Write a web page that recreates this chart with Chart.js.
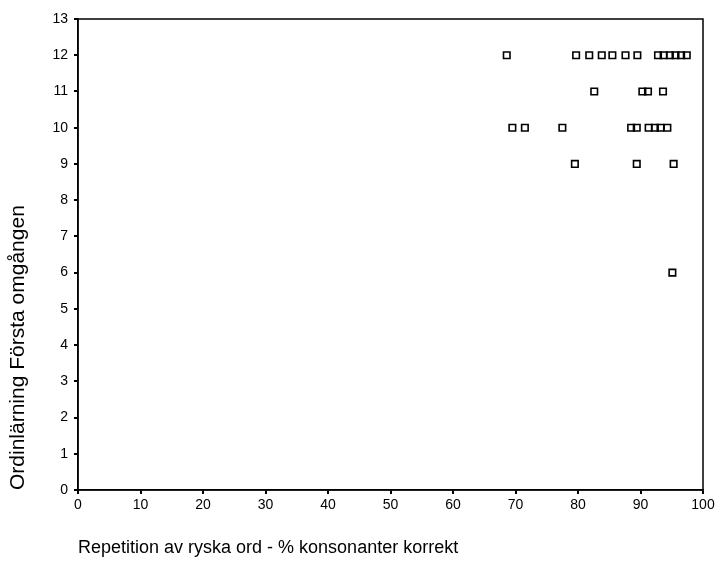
<!DOCTYPE html>
<html>
<head>
<meta charset="utf-8">
<script src="https://cdn.jsdelivr.net/npm/chart.js@4/dist/chart.umd.min.js"></script>
<style>
html,body{margin:0;padding:0;background:#fff;}
#wrap{width:720px;height:572px;position:relative;}
</style>
</head>
<body>
<div id="wrap"><canvas id="c" width="720" height="572"></canvas></div>
<script>
// Data
const xPercent = [68.6, 79.7, 81.8, 83.8, 85.5, 87.6, 89.5, 92.8, 93.7, 94.7, 95.6, 96.5, 97.4,
                  82.6, 90.3, 91.2, 93.6,
                  69.5, 71.5, 77.5, 88.5, 89.4, 91.3, 92.3, 93.2, 94.3,
                  79.5, 89.4, 95.3,
                  95.1];
const yRounds  = [12, 12, 12, 12, 12, 12, 12, 12, 12, 12, 12, 12, 12,
                  11, 11, 11, 11,
                  10, 10, 10, 10, 10, 10, 10, 10, 10,
                  9, 9, 9,
                  6];
const xTickValues = [0, 10, 20, 30, 40, 50, 60, 70, 80, 90, 100];
const yTickValues = [0, 1, 2, 3, 4, 5, 6, 7, 8, 9, 10, 11, 12, 13];
const xTitle = 'Repetition av ryska ord - % konsonanter korrekt';
const yTitle = 'Ordinlärning Första omgången';

const points = xPercent.map((x, i) => ({x: x, y: yRounds[i]}));

const boxPlugin = {
  id: 'box',
  afterDatasetsDraw(chart) {
    const a = chart.chartArea, ctx = chart.ctx;
    ctx.save();
    ctx.strokeStyle = '#000';
    ctx.lineWidth = 1.5;
    ctx.strokeRect(a.left, a.top, a.right - a.left, a.bottom - a.top);
    ctx.restore();
  }
};

const fam = '"Liberation Sans", Arial, sans-serif';
const tickFont = {family: fam, size: 14};

new Chart(document.getElementById('c'), {
  type: 'scatter',
  data: {
    datasets: [{
      data: points,
      pointStyle: 'rect',
      radius: 4.6,
      hoverRadius: 4.6,
      borderColor: '#000',
      backgroundColor: 'rgba(255,255,255,0)',
      borderWidth: 1.6
    }]
  },
  options: {
    responsive: false,
    animation: false,
    layout: {padding: {left: 0, top: 19, right: 17, bottom: 0}},
    plugins: {legend: {display: false}, tooltip: {enabled: false}},
    scales: {
      x: {
        type: 'linear', min: 0, max: 100,
        afterBuildTicks(scale) { scale.ticks = xTickValues.map(v => ({value: v})); },
        afterFit(scale) { scale.height = 82; },
        grid: {display: true, drawOnChartArea: false, drawTicks: true, tickLength: 4, color: '#000', lineWidth: 2},
        border: {display: true, color: '#000', width: 1.5},
        ticks: {color: '#000', font: tickFont, padding: 3, maxRotation: 0},
        title: {display: true, text: xTitle, align: 'start', color: '#000',
                font: {family: fam, size: 18}, padding: {top: 4, bottom: 13}}
      },
      y: {
        type: 'linear', min: 0, max: 13,
        afterBuildTicks(scale) { scale.ticks = yTickValues.map(v => ({value: v})); },
        afterFit(scale) { scale.width = 78; },
        grid: {display: true, drawOnChartArea: false, drawTicks: true, tickLength: 4, color: '#000', lineWidth: 2},
        border: {display: true, color: '#000', width: 1.5},
        ticks: {color: '#000', font: tickFont, padding: 6},
        title: {display: true, text: yTitle, align: 'start', color: '#000',
                font: {family: fam, size: 21}, padding: {top: 6, bottom: 0}}
      }
    }
  },
  plugins: [boxPlugin]
});
</script>
</body>
</html>
